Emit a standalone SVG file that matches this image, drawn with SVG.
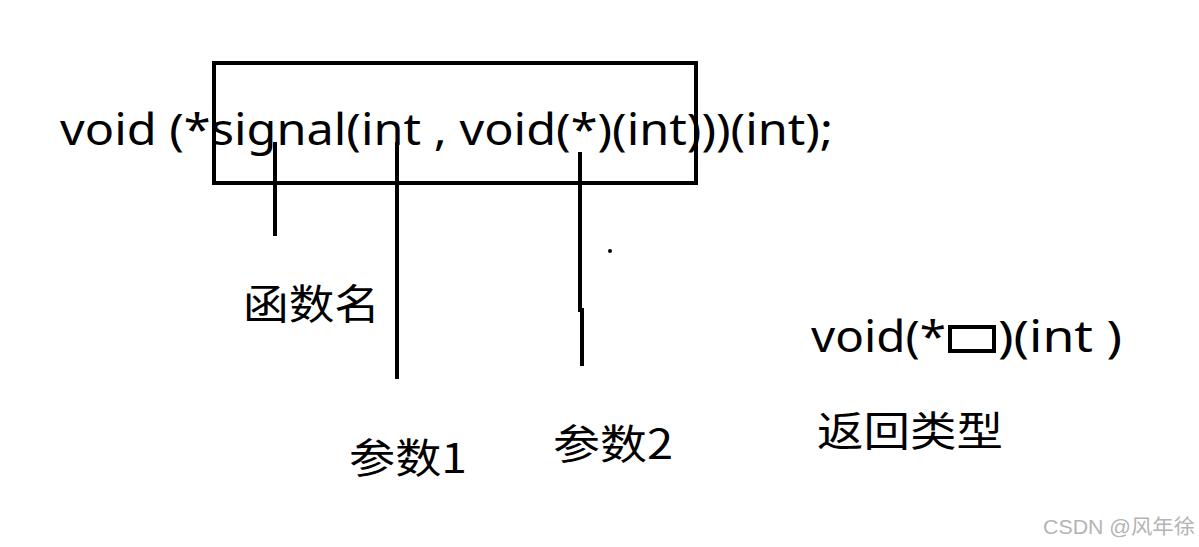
<svg xmlns="http://www.w3.org/2000/svg" width="1199" height="547" viewBox="0 0 1199 547">
<style>
.t{font-family:"Noto Sans","Noto Sans CJK SC",sans-serif;fill:#000;}
.c{font-family:"Noto Sans CJK SC","Noto Sans",sans-serif;fill:#000;}
.ln{stroke:#000;stroke-width:4;fill:none;stroke-linecap:butt;}
</style>
<rect width="1199" height="547" fill="#fff"/>
<g id="declaration">
<text class="t" x="60" y="145" font-size="43" textLength="773" lengthAdjust="spacingAndGlyphs">void (*signal(int , void(*)(int)))(int);</text>
</g>
<g id="box">
<rect x="214" y="63" width="482" height="120" class="ln"/>
</g>
<g id="connectors">
<line class="ln" x1="275" y1="142" x2="275" y2="236"/>
<line class="ln" x1="397" y1="142" x2="397" y2="379"/>
<line class="ln" x1="580" y1="152" x2="580" y2="312"/>
<line class="ln" x1="582" y1="308" x2="582" y2="366"/>
<circle cx="610" cy="251" r="2" fill="#000"/>
</g>
<g id="label-funcname">
<text class="c" x="243" y="319" font-size="41" textLength="137" lengthAdjust="spacingAndGlyphs">函数名</text>
</g>
<g id="label-param1">
<text class="c" x="349" y="473" font-size="41" textLength="118" lengthAdjust="spacingAndGlyphs">参数1</text>
</g>
<g id="label-param2">
<text class="c" x="553" y="459" font-size="41" textLength="120" lengthAdjust="spacingAndGlyphs">参数2</text>
</g>
<g id="return-type">
<text class="t" x="811" y="352" font-size="43" textLength="135" lengthAdjust="spacingAndGlyphs">void(*</text>
<rect x="950" y="327" width="44" height="24" class="ln"/>
<text class="t" x="998" y="352" font-size="43" textLength="124" lengthAdjust="spacingAndGlyphs">)(int )</text>
<text class="c" x="817" y="446" font-size="41" textLength="186" lengthAdjust="spacingAndGlyphs">返回类型</text>
</g>
<text x="1043" y="534" font-size="20" fill="#b4b4b4" textLength="152" lengthAdjust="spacingAndGlyphs" font-family="'Liberation Sans','Noto Sans CJK SC',sans-serif">CSDN @风年徐</text>
</svg>
